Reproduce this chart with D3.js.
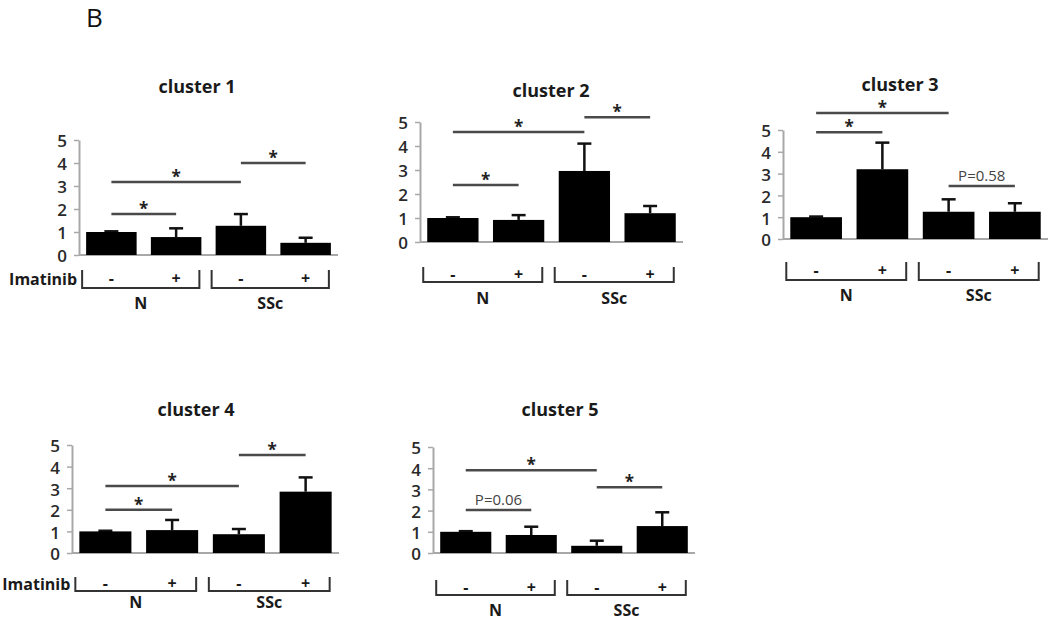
<!DOCTYPE html>
<html>
<head>
<meta charset="utf-8">
<script src="https://cdn.jsdelivr.net/npm/d3@7"></script>
<style>
body { margin: 0; background: #fff; }
text { font-family: "Open Sans", Lato, sans-serif; }
</style>
</head>
<body>
<div id="chart"></div>
<script>
/// Chart data ///
var clusters = ["cluster 1", "cluster 2", "cluster 3", "cluster 4", "cluster 5"];
var groups = ["N-", "N+", "SSc-", "SSc+"];
var imatinibSigns = ["-", "+", "-", "+"];
var cellTypes = ["N", "SSc"];
var yTicks = [0, 1, 2, 3, 4, 5];

// bar heights per cluster (N-, N+, SSc-, SSc+)
var means = [
    [1.0, 0.78, 1.27, 0.53],
    [1.0, 0.92, 2.96, 1.20],
    [1.0, 3.20, 1.25, 1.25],
    [1.0, 1.06, 0.87, 2.84],
    [1.0, 0.85, 0.34, 1.27]
];

// upper error per bar
var errors = [
    [0.03, 0.38, 0.51, 0.22],
    [0.03, 0.20, 1.14, 0.30],
    [0.03, 1.22, 0.57, 0.39],
    [0.03, 0.47, 0.24, 0.66],
    [0.03, 0.39, 0.24, 0.65]
];

// significance marks: from group, to group, height (data units), label
var sigMarks = [
    [{a: 0, b: 1, y: 1.78, label: "*"}, {a: 0, b: 2, y: 3.17, label: "*"}, {a: 2, b: 3, y: 4.0, label: "*"}],
    [{a: 0, b: 1, y: 2.38, label: "*"}, {a: 0, b: 2, y: 4.58, label: "*"}, {a: 2, b: 3, y: 5.2, label: "*"}],
    [{a: 0, b: 1, y: 4.9, label: "*"}, {a: 0, b: 2, y: 5.78, label: "*"}, {a: 2, b: 3, y: 2.43, label: "P=0.58"}],
    [{a: 0, b: 1, y: 2.0, label: "*"}, {a: 0, b: 2, y: 3.1, label: "*"}, {a: 2, b: 3, y: 4.54, label: "*"}],
    [{a: 0, b: 1, y: 2.03, label: "P=0.06"}, {a: 0, b: 2, y: 3.9, label: "*"}, {a: 2, b: 3, y: 3.1, label: "*"}]
];

/// Panel layout ///
var panels = [
    {x0: 79, x1: 338, top: 140, base: 255, titleX: 197, titleY: 93, brTop: 270, brBot: 288, grpY: 309, imatinib: true},
    {x0: 420, x1: 683, top: 122, base: 242, titleX: 551, titleY: 97, brTop: 267, brBot: 282, grpY: 304, imatinib: false},
    {x0: 783, x1: 1048, top: 130, base: 239, titleX: 900, titleY: 91, brTop: 262, brBot: 280, grpY: 301, imatinib: false},
    {x0: 72, x1: 339, top: 445, base: 553, titleX: 196, titleY: 416, brTop: 577, brBot: 591, grpY: 608, imatinib: true},
    {x0: 433, x1: 695, top: 447, base: 553, titleX: 560, titleY: 416, brTop: 580, brBot: 595, grpY: 616, imatinib: false}
];

var svg = d3.select("#chart")
    .append("svg")
    .attr("width", 1050)
    .attr("height", 622)
    .style("background", "#fff");

// figure letter
svg.append("text")
    .attr("x", 86)
    .attr("y", 27)
    .attr("font-family", "Liberation Sans, Arial, sans-serif")
    .attr("font-size", 26)
    .attr("fill", "#111")
    .text("B");

clusters.forEach(function (name, i) {
    var p = panels[i];
    var g = svg.append("g");

    var x = d3.scaleBand()
        .domain(groups)
        .range([p.x0, p.x1])
        .paddingInner(0.22)
        .paddingOuter(0.11);

    var y = d3.scaleLinear()
        .domain([0, 5])
        .range([p.base, p.top]);

    // title
    g.append("text")
        .attr("x", p.titleX)
        .attr("y", p.titleY)
        .attr("text-anchor", "middle")
        .attr("font-size", 18)
        .attr("font-weight", "bold")
        .attr("fill", "#1a1a1a")
        .text(name);

    // left axis
    var yAxis = g.append("g")
        .attr("transform", `translate(${p.x0}, 0)`)
        .call(d3.axisLeft(y).tickValues(yTicks).tickFormat(d3.format("d"))
            .tickSize(5).tickSizeOuter(0).tickPadding(7));
    yAxis.select(".domain").attr("stroke", "#a8a8a8").attr("stroke-width", 2);
    yAxis.selectAll(".tick line").attr("stroke", "#a8a8a8").attr("stroke-width", 1.5);
    yAxis.selectAll(".tick text")
        .attr("font-family", "Open Sans, sans-serif")
        .attr("font-size", 17)
        .attr("font-weight", 600)
        .attr("fill", "#2a2a2a")
        .attr("dy", "0.4em");

    // baseline
    g.append("line")
        .attr("x1", p.x0).attr("x2", p.x1)
        .attr("y1", y(0)).attr("y2", y(0))
        .attr("stroke", "#a8a8a8").attr("stroke-width", 2);

    // error bars
    var errG = g.append("g");
    groups.forEach(function (grp, j) {
        var cx = x(grp) + x.bandwidth() / 2;
        var top = y(means[i][j] + errors[i][j]);
        errG.append("line")
            .attr("x1", cx).attr("x2", cx)
            .attr("y1", y(means[i][j])).attr("y2", top)
            .attr("stroke", "#111").attr("stroke-width", 2.5);
        errG.append("line")
            .attr("x1", cx - 7).attr("x2", cx + 7)
            .attr("y1", top).attr("y2", top)
            .attr("stroke", "#111").attr("stroke-width", 2.5);
    });

    // bars
    g.selectAll("rect.bar")
        .data(means[i])
        .enter()
        .append("rect")
        .attr("class", "bar")
        .attr("x", (d, j) => x(groups[j]))
        .attr("y", d => y(d))
        .attr("width", x.bandwidth())
        .attr("height", d => y(0) - y(d))
        .attr("fill", "#000");

    // significance lines
    sigMarks[i].forEach(function (s) {
        var xa = x(groups[s.a]) + x.bandwidth() / 2;
        var xb = x(groups[s.b]) + x.bandwidth() / 2;
        var ly = y(s.y);
        g.append("line")
            .attr("x1", xa).attr("x2", xb)
            .attr("y1", ly).attr("y2", ly)
            .attr("stroke", "#4a4a4a").attr("stroke-width", 2.5);
        var isStar = s.label === "*";
        g.append("text")
            .attr("x", (xa + xb) / 2)
            .attr("y", isStar ? ly + 1 : ly - 5)
            .attr("text-anchor", "middle")
            .attr("font-size", isStar ? 17 : 15)
            .attr("font-weight", isStar ? "bold" : "normal")
            .attr("fill", isStar ? "#222" : "#444")
            .text(s.label);
    });

    // imatinib brackets
    cellTypes.forEach(function (ct, k) {
        var ga = groups[k * 2], gb = groups[k * 2 + 1];
        var bx0 = x(ga) - 4;
        var bx1 = x(gb) + x.bandwidth() - 2;
        g.append("path")
            .attr("d", `M${bx0},${p.brTop}V${p.brBot}H${bx1}V${p.brTop}`)
            .attr("fill", "none")
            .attr("stroke", "#333").attr("stroke-width", 2);
        g.append("text")
            .attr("x", (bx0 + bx1) / 2)
            .attr("y", p.grpY)
            .attr("text-anchor", "middle")
            .attr("font-size", 16)
            .attr("font-weight", "bold")
            .attr("fill", "#1a1a1a")
            .text(ct);
    });

    g.selectAll("text.sign")
        .data(imatinibSigns)
        .enter()
        .append("text")
        .attr("class", "sign")
        .attr("x", (d, j) => x(groups[j]) + x.bandwidth() / 2)
        .attr("y", (p.brTop + p.brBot) / 2 + 5)
        .attr("text-anchor", "middle")
        .attr("font-size", 16)
        .attr("font-weight", "bold")
        .attr("fill", "#1a1a1a")
        .text(d => d);

    if (p.imatinib) {
        g.append("text")
            .attr("x", x(groups[0]) - 9)
            .attr("y", (p.brTop + p.brBot) / 2 + 6)
            .attr("text-anchor", "end")
            .attr("font-size", 16)
            .attr("font-weight", "bold")
            .attr("fill", "#1a1a1a")
            .text("Imatinib");
    }
});
</script>
</body>
</html>
